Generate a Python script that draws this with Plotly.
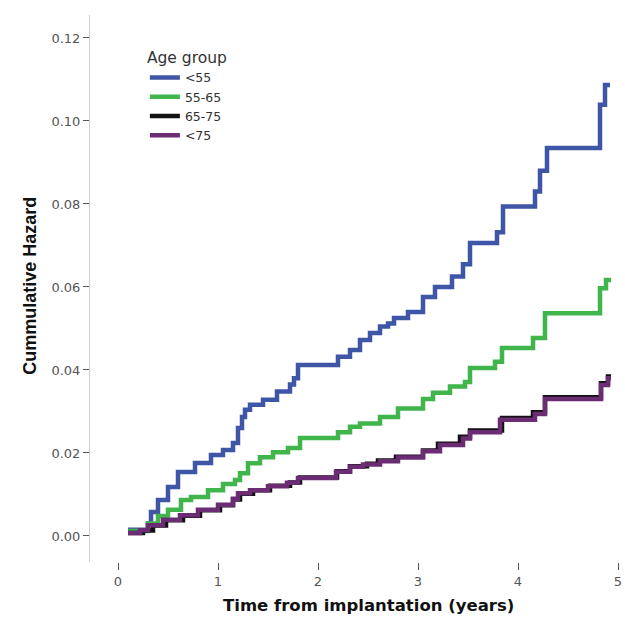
import plotly.graph_objects as go

# ---- data ----
groups = ["<55", "55-65", "65-75", "<75"]
colors = ["#3f55a6", "#3fb54c", "#111111", "#6b2c74"]

x_lt55 = [0.10, 0.30, 0.33, 0.40, 0.50, 0.60, 0.77, 0.93, 1.05, 1.15, 1.20, 1.24, 1.27, 1.32,
          1.45, 1.59, 1.72, 1.76, 1.80, 2.20, 2.32, 2.42, 2.52, 2.62, 2.70, 2.76, 2.90, 3.05,
          3.17, 3.34, 3.45, 3.52, 3.79, 3.85, 4.17, 4.22, 4.29, 4.82, 4.87, 4.92]
y_lt55 = [0.0015, 0.0030, 0.0058, 0.0087, 0.0118, 0.0154, 0.0176, 0.0195, 0.0207, 0.0224,
          0.0260, 0.0287, 0.0304, 0.0316, 0.0328, 0.0348, 0.0365, 0.0380, 0.0412, 0.0432,
          0.0448, 0.0472, 0.0489, 0.0505, 0.0512, 0.0525, 0.0540, 0.0576, 0.0600, 0.0625,
          0.0655, 0.0706, 0.0732, 0.0794, 0.0830, 0.0880, 0.0935, 0.1039, 0.1087, 0.1087]

x_55_65 = [0.10, 0.30, 0.40, 0.50, 0.63, 0.73, 0.90, 1.05, 1.17, 1.22, 1.30, 1.42, 1.55, 1.70,
           1.82, 2.20, 2.32, 2.42, 2.62, 2.80, 3.05, 3.15, 3.32, 3.47, 3.52, 3.77, 3.84, 4.15,
           4.27, 4.82, 4.88, 4.93]
y_55_65 = [0.0012, 0.0030, 0.0048, 0.0063, 0.0087, 0.0094, 0.0110, 0.0125, 0.0135, 0.0151,
           0.0175, 0.0190, 0.0202, 0.0212, 0.0236, 0.0250, 0.0263, 0.0271, 0.0287, 0.0307,
           0.0330, 0.0345, 0.0360, 0.0371, 0.0405, 0.0420, 0.0453, 0.0477, 0.0537, 0.0597,
           0.0617, 0.0617]

x_65_75 = [0.10, 0.25, 0.35, 0.48, 0.65, 0.82, 1.02, 1.15, 1.22, 1.35, 1.52, 1.72, 1.82, 2.19,
           2.32, 2.49, 2.60, 2.78, 3.05, 3.20, 3.42, 3.52, 3.84, 4.15, 4.27, 4.83, 4.90, 4.93]
y_65_75 = [0.0007, 0.0013, 0.0025, 0.0038, 0.0049, 0.0062, 0.0074, 0.0088, 0.0102, 0.0110,
           0.0121, 0.0129, 0.0141, 0.0156, 0.0168, 0.0174, 0.0182, 0.0191, 0.0206, 0.0222,
           0.0239, 0.0254, 0.0284, 0.0298, 0.0334, 0.0368, 0.0384, 0.0384]

x_gt75 = [0.10, 0.22, 0.30, 0.45, 0.62, 0.80, 1.00, 1.15, 1.20, 1.32, 1.50, 1.69, 1.80, 2.18,
          2.32, 2.45, 2.62, 2.80, 3.05, 3.22, 3.45, 3.52, 3.82, 4.17, 4.27, 4.83, 4.90, 4.93]
y_gt75 = [0.0007, 0.0014, 0.0026, 0.0039, 0.0050, 0.0063, 0.0075, 0.0090, 0.0103, 0.0110,
          0.0120, 0.0128, 0.0140, 0.0155, 0.0167, 0.0172, 0.0180, 0.0189, 0.0204, 0.0219,
          0.0235, 0.0250, 0.0280, 0.0294, 0.0330, 0.0364, 0.0380, 0.0380]

x_ticks = [0, 1, 2, 3, 4, 5]
y_ticks = [0.00, 0.02, 0.04, 0.06, 0.08, 0.10, 0.12]

series = [(x_lt55, y_lt55), (x_55_65, y_55_65), (x_65_75, y_65_75), (x_gt75, y_gt75)]

WIDE = "'DejaVu Sans', Verdana, sans-serif"
ARIAL = "Arial, 'Liberation Sans', sans-serif"

fig = go.Figure()
for name, col, (xs, ys) in zip(groups, colors, series):
    fig.add_trace(go.Scatter(
        x=xs, y=ys, mode="lines", name=name,
        line=dict(color=col, width=4.5, shape="hv"),
    ))

fig.update_layout(
    width=625, height=622,
    margin=dict(l=90, r=2, t=15, b=60),
    paper_bgcolor="white", plot_bgcolor="white",
    font=dict(family=WIDE, color="#444444"),
    showlegend=True,
    legend=dict(
        x=0.103, y=0.9495, xanchor="left", yanchor="top",
        bgcolor="rgba(0,0,0,0)",
        font=dict(size=12.5, color="#333333", family=WIDE),
        title=dict(text="Age group", side="top",
                   font=dict(size=15.5, color="#333333", family=WIDE)),
        itemwidth=30, tracegroupgap=0,
    ),
    xaxis=dict(
        range=[-0.28, 5.05], tickvals=x_ticks, ticktext=[str(v) for v in x_ticks],
        showgrid=False, zeroline=False, showline=False,
        ticks="outside", ticklen=7, tickwidth=1, tickcolor="#555555",
        tickfont=dict(size=13, color="#555555", family=WIDE),
    ),
    yaxis=dict(
        range=[-0.00627, 0.12554], tickvals=y_ticks,
        ticktext=["%.2f" % v for v in y_ticks],
        showgrid=False, zeroline=False, showline=True, linecolor="#d0d0d0", linewidth=1,
        ticks="outside", ticklen=6, tickwidth=1, tickcolor="#555555",
        tickfont=dict(size=13, color="#555555", family=WIDE),
    ),
    annotations=[
        dict(text="<b>Cummulative Hazard</b>", xref="paper", yref="paper",
             x=-0.1126, y=0.505, xanchor="center", yanchor="middle",
             textangle=-90, showarrow=False,
             font=dict(size=18, color="#111111", family=ARIAL)),
        dict(text="<b>Time from implantation (years)</b>", xref="x", yref="paper",
             x=2.5, y=-0.0804, xanchor="center", yanchor="middle", showarrow=False,
             font=dict(size=16.5, color="#111111", family=WIDE)),
    ],
)

fig.write_html("out.html")
